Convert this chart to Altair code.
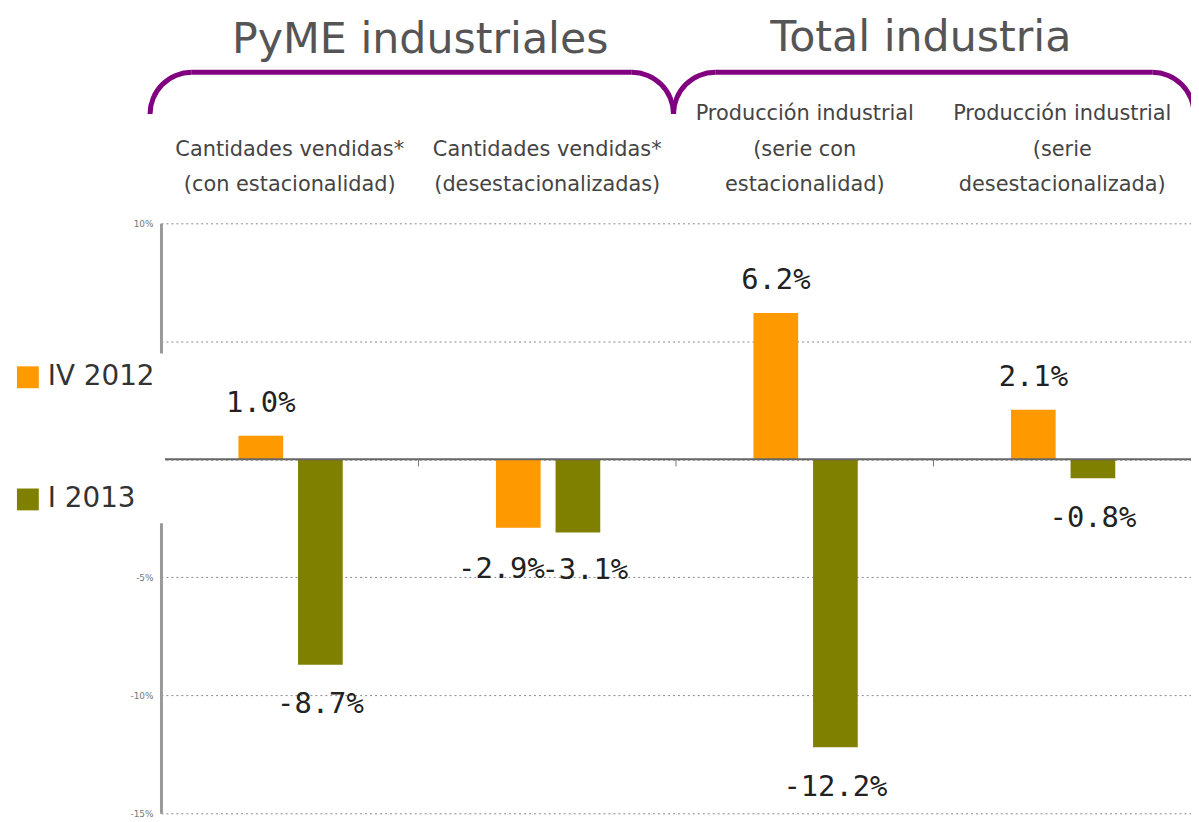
import altair as alt
import pandas as pd

categories = [
    "Cantidades vendidas*|(con estacionalidad)",
    "Cantidades vendidas*|(desestacionalizadas)",
    "Producción industrial|(serie con|estacionalidad)",
    "Producción industrial|(serie|desestacionalizada)",
]
series = ["IV 2012", "I 2013"]
iv_2012 = [1.0, -2.9, 6.2, 2.1]
i_2013 = [-8.7, -3.1, -12.2, -0.8]
group_titles = ["PyME industriales", "Total industria"]
y_ticks = [-15, -10, -5, 0, 5, 10]
colors = ["#FF9900", "#808000"]

rows = []
for c, a, b in zip(categories, iv_2012, i_2013):
    rows.append({"cat": c, "serie": series[0], "value": a})
    rows.append({"cat": c, "serie": series[1], "value": b})
df = pd.DataFrame(rows)

# bottom-align multi-line headers: pad 2-line labels with an empty first line
label_expr = ("split(length(split(datum.label, '|')) < 3 ? '|' + datum.label : datum.label, '|')")
x_axis = alt.Axis(orient="top", title=None, domain=False, ticks=False, labelAngle=0,
                  labelExpr=label_expr, labelFont="DejaVu Sans",
                  labelFontSize=21, labelColor="#444", labelLineHeight=35.5,
                  labelPadding=100, labelLimit=400)
x_scale = alt.Scale(paddingInner=0, paddingOuter=0)
x_enc = alt.X("cat:N", sort=categories, scale=x_scale, axis=x_axis)
xoff = alt.XOffset("serie:N", sort=series,
                   scale=alt.Scale(paddingInner=0.25, paddingOuter=0, range=[78, 183]))
y_enc = alt.Y("value:Q", scale=alt.Scale(domain=[-15, 10], nice=False, zero=False),
              axis=alt.Axis(values=y_ticks, title=None,
                            labelExpr="datum.value == 0 || datum.value == 5 ? '' : datum.value + '%'",
                            ticks=False, labelPadding=8, labelFontSize=9, labelColor="#777",
                            labelFont="DejaVu Sans",
                            domainColor="#999", domainWidth=3,
                            gridColor="#888", gridDash=[2, 3], gridWidth=1))
color = alt.Color("serie:N", sort=series, scale=alt.Scale(domain=series, range=colors),
                  legend=alt.Legend(title=None, orient="none", legendX=-158, legendY=131,
                                    symbolType="square", symbolSize=484, symbolStrokeWidth=0,
                                    labelFont="DejaVu Sans", labelFontSize=28, labelColor="#333",
                                    rowPadding=95, labelOffset=6, fillColor="white", padding=10))

base = alt.Chart(df).encode(x=x_enc, xOffset=xoff, y=y_enc)
bars = base.mark_bar().encode(color=color)

lbl = "(datum.value < 0 ? '-' : '') + format(abs(datum.value), '.1f') + '%'"
TXT = dict(font="DejaVu Sans Mono", fontSize=29, color="#222", baseline="middle")
pos_text = base.transform_filter("datum.value >= 0").transform_calculate(lbl=lbl).mark_text(
    dy=-33, **TXT).encode(text="lbl:N")
neg_text = base.transform_filter(
    f"datum.value < 0 && datum.cat != '{categories[1]}'"
).transform_calculate(lbl=lbl).mark_text(dy=40, **TXT).encode(text="lbl:N")
# the two close labels of the second group are nudged apart, as in the original
neg_a = base.transform_filter(
    f"datum.value < 0 && datum.cat == '{categories[1]}' && datum.serie == '{series[0]}'"
).transform_calculate(lbl=lbl).mark_text(dy=42, dx=-17, **TXT).encode(text="lbl:N")
neg_b = base.transform_filter(
    f"datum.value < 0 && datum.cat == '{categories[1]}' && datum.serie == '{series[1]}'"
).transform_calculate(lbl=lbl).mark_text(dy=38, dx=7, **TXT).encode(text="lbl:N")

zero = alt.Chart(pd.DataFrame({"z": [0]})).mark_rule(color="#666", strokeWidth=2).encode(
    y=alt.datum(0))
ticks = alt.Chart(pd.DataFrame({"cat": categories[1:]})).mark_rule(color="#777", strokeWidth=1).encode(
    x=alt.X("cat:N", sort=categories, scale=x_scale, axis=x_axis, bandPosition=0),
    y=alt.datum(0), y2=alt.datum(-0.3))

one = pd.DataFrame({"i": [0]})
P = "#800080"
TL0, TL1 = 4.712389, 6.283185
TR0, TR1 = 0.0, 1.570796


def arc(cx, cy, t0, t1):
    return alt.Chart(one).mark_arc(radius=44.5, radius2=39.5, theta=t0, theta2=t1,
                                   color=P).encode(
        x=alt.value(cx), y=alt.value(cy))


def hline(x0, x1, y):
    return alt.Chart(one).mark_rule(color=P, strokeWidth=5).encode(
        x=alt.value(x0), x2=alt.value(x1), y=alt.value(y))


def title(t, x, y):
    return alt.Chart(one).mark_text(text=t, font="DejaVu Sans", fontSize=43, color="#555",
                                    align="center", baseline="alphabetic").encode(
        x=alt.value(x), y=alt.value(y))


braces = [
    arc(31, -110, TL0, TL1), hline(31, 474, -152), arc(474, -110, TR0, TR1),
    arc(558, -110, TL0, TL1), hline(558, 998, -152), arc(998, -110, TR0, TR1),
]
titles = [title(group_titles[0], 261, -171), title(group_titles[1], 765, -173)]

chart = alt.layer(bars, zero, ticks, pos_text, neg_text, neg_a, neg_b, *braces, *titles).properties(
    width=1037, height=594,
    padding={"left": 154, "top": 214, "right": 0, "bottom": 8},
    autosize=alt.AutoSizeParams(type="none"),
    background="white",
).configure_view(stroke=None)

chart.save("out.html", embed_options={"renderer": "svg", "actions": False})
